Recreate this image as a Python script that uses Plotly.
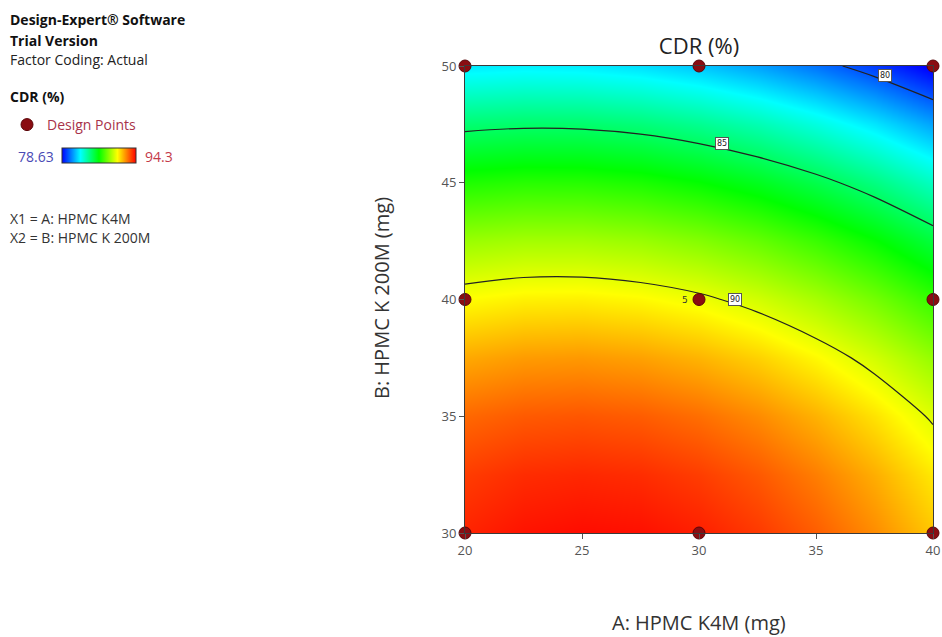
import plotly.graph_objects as go

# Factor levels (mg)
A_levels = [20, 22.5, 25, 27.5, 30, 32.5, 35, 37.5, 40]          # A: HPMC K4M
B_levels = [30, 32.5, 35, 37.5, 40, 42.5, 45, 47.5, 50]          # B: HPMC K 200M

# CDR (%) response surface, rows = B, columns = A
CDR = [
    [93.76, 94.02, 94.12, 94.06, 93.83, 93.43, 92.87, 92.14, 91.25],  # B=30
    [93.38, 93.63, 93.70, 93.62, 93.37, 92.95, 92.37, 91.63, 90.72],  # B=32.5
    [92.70, 92.92, 92.98, 92.88, 92.61, 92.17, 91.57, 90.81, 89.88],  # B=35
    [91.71, 91.92, 91.96, 91.83, 91.54, 91.09, 90.47, 89.69, 88.74],  # B=37.5
    [90.42, 90.61, 90.63, 90.48, 90.18, 89.70, 89.06, 88.26, 87.29],  # B=40
    [88.83, 88.99, 88.99, 88.83, 88.50, 88.01, 87.35, 86.53, 85.54],  # B=42.5
    [86.93, 87.08, 87.06, 86.88, 86.53, 86.02, 85.34, 84.50, 83.49],  # B=45
    [84.73, 84.85, 84.82, 84.62, 84.25, 83.72, 83.02, 82.16, 81.13],  # B=47.5
    [82.22, 82.33, 82.27, 82.05, 81.67, 81.11, 80.40, 79.52, 78.47],  # B=50
]

# Design points (3x3 factorial, centre point with 5 replicates)
design_A = [20, 30, 40, 20, 30, 40, 20, 30, 40]
design_B = [30, 30, 30, 40, 40, 40, 50, 50, 50]

cdr_min, cdr_max = 78.63, 94.3
contour_levels = [80, 85, 90]
contour_label_pos = [(37.95, 49.6), (30.98, 46.7), (31.54, 40.0)]

x_ticks = [20, 25, 30, 35, 40]
y_ticks = [30, 35, 40, 45, 50]

colorscale = [
    [0.0, "#0000ff"],
    [0.25, "#00ffff"],
    [0.5, "#00ff00"],
    [0.75, "#ffff00"],
    [1.0, "#ff0000"],
]

W, H = 942, 637
L, R, T, B = 465, 9, 66, 104
pw, ph = W - L - R, H - T - B


def px(xp):
    return (xp - L) / pw


def py(yp):
    return (H - B - yp) / ph


fig = go.Figure()

fig.add_trace(go.Heatmap(
    x=A_levels, y=B_levels, z=CDR,
    colorscale=colorscale, zmin=cdr_min, zmax=cdr_max, zsmooth="best",
    showscale=True,
    colorbar=dict(
        orientation="h", x=px(62), xanchor="left", y=py(156), yanchor="middle",
        len=74, lenmode="pixels", thickness=15, thicknessmode="pixels",
        showticklabels=False, ticks="", outlinewidth=1, outlinecolor="#333",
        xpad=0, ypad=0,
    ),
    hoverinfo="skip", showlegend=False,
))

fig.add_trace(go.Contour(
    x=A_levels, y=B_levels, z=CDR,
    contours=dict(start=contour_levels[0], end=contour_levels[-1], size=5,
                  coloring="none", showlabels=False),
    line=dict(color="#222", width=1.2, smoothing=1.0),
    showscale=False, hoverinfo="skip", showlegend=False,
))

fig.add_trace(go.Scatter(
    x=design_A, y=design_B, mode="markers", name="Design Points",
    marker=dict(size=12, color="#8a0d12", line=dict(color="#5a0508", width=1)),
    cliponaxis=False, showlegend=True,
))

annotations = []
for lvl, (ax, ay) in zip(contour_levels, contour_label_pos):
    annotations.append(dict(
        x=ax, y=ay, xref="x", yref="y", text=str(lvl), showarrow=False,
        font=dict(size=8, color="#222", family="DejaVu Sans"),
        bgcolor="white", bordercolor="#555", borderwidth=1, borderpad=1,
    ))
annotations.append(dict(x=29.4, y=40, xref="x", yref="y", text="5", showarrow=False,
                        font=dict(size=9, color="#333", family="DejaVu Sans")))

left_font = "Open Sans"
fs = 14
annotations += [
    dict(x=px(8), y=py(20), text="<b>Design-Expert® Software</b>", font=dict(size=fs, color="#111", family=left_font)),
    dict(x=px(8), y=py(40), text="<b>Trial Version</b>", font=dict(size=fs, color="#111", family=left_font)),
    dict(x=px(8), y=py(59), text="Factor Coding: Actual", font=dict(size=fs, color="#222", family=left_font)),
    dict(x=px(8), y=py(97), text="<b>CDR (%)</b>", font=dict(size=fs, color="#111", family=left_font)),
    dict(x=px(16), y=py(156), text="78.63", font=dict(size=fs, color="#4a4ab5", family=left_font)),
    dict(x=px(143), y=py(156), text="94.3", font=dict(size=fs, color="#c43a4a", family=left_font)),
    dict(x=px(8), y=py(218), text="X1 = A: HPMC K4M", font=dict(size=fs, color="#333", family=left_font)),
    dict(x=px(8), y=py(237), text="X2 = B: HPMC K 200M", font=dict(size=fs, color="#333", family=left_font)),
]
for a in annotations[-8:]:
    a.update(xref="paper", yref="paper", xanchor="left", yanchor="middle", showarrow=False)

annotations.append(dict(x=0.5, y=py(622), xref="paper", yref="paper", text="A: HPMC K4M (mg)",
                        showarrow=False, xanchor="center", yanchor="middle",
                        font=dict(size=20, color="#333", family=left_font)))
annotations.append(dict(x=px(381), y=py(298), xref="paper", yref="paper", text="B: HPMC K 200M (mg)",
                        showarrow=False, xanchor="center", yanchor="middle", textangle=-90,
                        font=dict(size=20, color="#333", family=left_font)))

axis_common = dict(
    showgrid=False, zeroline=False, showline=True, linecolor="#3a3a3a", linewidth=1,
    mirror=True, ticks="outside", ticklen=5, tickcolor="#555",
    tickfont=dict(size=13, color="#555", family=left_font),
)

fig.update_layout(
    width=W, height=H,
    margin=dict(l=L, r=R, t=T, b=B, autoexpand=False),
    paper_bgcolor="white", plot_bgcolor="white",
    title=dict(text="CDR (%)", x=0.5, xref="paper", xanchor="center",
               y=1 - 46 / H, yref="container", yanchor="middle",
               font=dict(size=22, color="#222", family=left_font)),
    xaxis=dict(range=[20, 40], tickvals=x_ticks, **axis_common),
    yaxis=dict(range=[30, 50], tickvals=y_ticks, **axis_common),
    showlegend=True,
    legend=dict(x=px(7), y=py(125), xanchor="left", yanchor="middle",
                font=dict(size=fs, color="#a8324a", family=left_font),
                bgcolor="rgba(0,0,0,0)", itemwidth=30),
    annotations=annotations,
)

fig.write_html("out.html")
